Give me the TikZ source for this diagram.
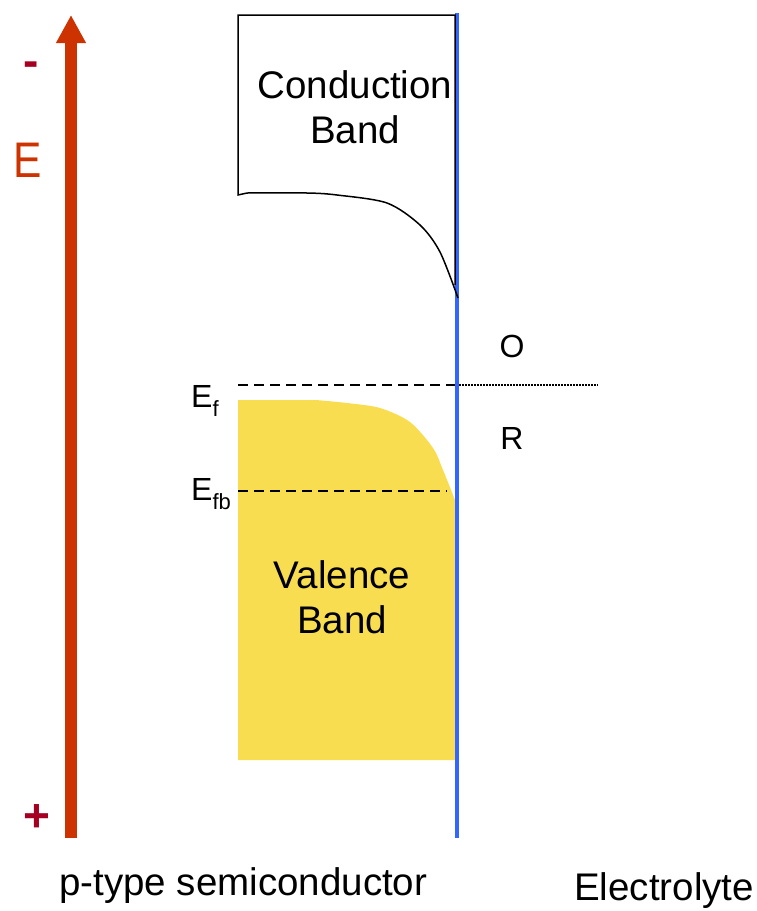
\documentclass[tikz,border=0pt]{standalone}
\usepackage{fontspec}
\setmainfont{Liberation Sans}
\usetikzlibrary{arrows.meta}
\definecolor{arrowred}{HTML}{CC3300}
\definecolor{signred}{HTML}{A50021}
\definecolor{bluelin}{HTML}{3366FF}
\definecolor{vbyellow}{HTML}{F9DD50}
\tikzset{
  big/.style={font=\fontsize{38.5}{45}\selectfont, inner sep=0pt, align=center},
  lbl/.style={font=\fontsize{32}{36}\selectfont, inner sep=0pt},
  sign/.style={font=\fontsize{46}{50}\selectfont\bfseries, text=signred, inner sep=0pt},
  dashln/.style={black, line width=2.3pt, dash pattern=on 10pt off 6pt},
}
\begin{document}
\begin{tikzpicture}[x=1pt,y=-1pt]
\useasboundingbox (0,0) rectangle (757,911);
% energy arrow
\coordinate (abot) at (71,838);
\coordinate (atop) at (71,15);
\draw[arrowred, line width=12pt, -{Triangle[length=28pt,width=28pt]}] (abot) -- (atop);
\node[sign, anchor=center] (minus) at (31,69) {-};
\node[sign, anchor=center] (plus) at (37,818) {+};
\node[font=\fontsize{50}{50}\selectfont, text=arrowred, inner sep=0pt, xscale=0.85] (elab) at (28,160) {E};
% valence band
\fill[vbyellow] (238,760) -- (238,400) -- plot[smooth,tension=0.5] coordinates {(316,400) (347,403) (380,408) (410,422) (433,448) (443,470) (455,500)} -- (455,760) -- cycle;
\node[big, anchor=base] (vb) at (342,633) {Valence\\Band};
% interface line
\coordinate (itop) at (457,13);
\coordinate (ibot) at (457,838);
\draw[bluelin, line width=4pt] (itop) -- (ibot);
% conduction band
\draw[black, line width=1.5pt] (455,285) -- (455,15) -- (238,15) -- (238,195) -- (247,193)
  -- plot[smooth,tension=0.5] coordinates {(247,193) (307,193) (337,195) (387,203) (420,225) (440,252) (458,298)};
\node[big, anchor=base] (cb) at (355,143) {Conduction\\Band};
% Fermi levels
\coordinate (efl) at (238,385);
\coordinate (efr) at (455,385);
\coordinate (edl) at (459,385);
\coordinate (edr) at (598,385);
\draw[dashln] (efl) -- (efr);
\draw[black, line width=1.5pt, dash pattern=on 2pt off 1pt] (edl) -- (edr);
\coordinate (efbl) at (238,491);
\coordinate (efbr) at (447,491);
\draw[dashln] (efbl) -- (efbr);
\node[lbl, anchor=base west] (ef) at (191,407) {E\raisebox{-0.3em}{\fontsize{22}{22}\selectfont f}};
\node[lbl, anchor=base west] (efb) at (191,500) {E\raisebox{-0.3em}{\fontsize{22}{22}\selectfont fb}};
% redox labels
\node[lbl, anchor=base] (o) at (512,357) {O};
\node[lbl, anchor=base] (r) at (512,449) {R};
% bottom labels
\node[big, anchor=base west] (pt) at (59,895) {p-type semiconductor};
\node[big, anchor=base west] (el) at (574,900) {Electrolyte};
\end{tikzpicture}
\end{document}
